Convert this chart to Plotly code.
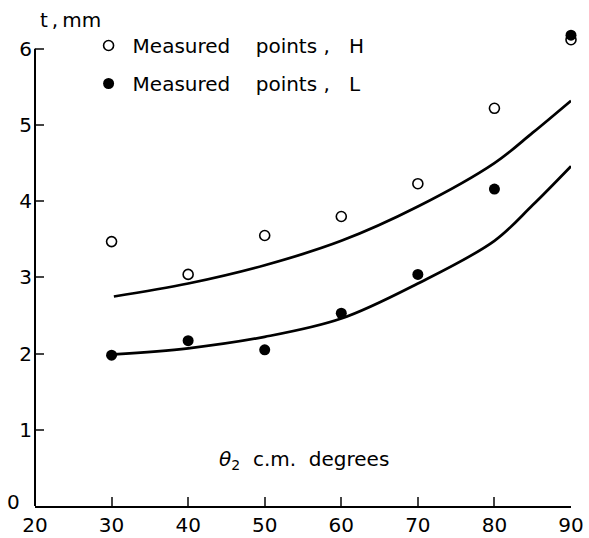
import plotly.graph_objects as go

# Measured points
angles = [30, 40, 50, 60, 70, 80, 90]
t_H = [3.47, 3.04, 3.55, 3.80, 4.23, 5.22, 6.12]
t_L = [1.98, 2.17, 2.05, 2.53, 3.04, 4.16, 6.18]

# Fitted curves
curve_x = [30.3, 40, 50, 60, 70, 80, 85, 90]
curve_H = [2.75, 2.92, 3.16, 3.48, 3.93, 4.50, 4.90, 5.32]
curve_L = [1.99, 2.07, 2.22, 2.46, 2.92, 3.48, 3.95, 4.46]

x_ticks = [20, 30, 40, 50, 60, 70, 80, 90]
y_ticks = [1, 2, 3, 4, 5, 6]
y_axis_top = 6

FONT = "DejaVu Sans"
NB = "&nbsp;"

fig = go.Figure()
fig.add_trace(go.Scatter(x=curve_x, y=curve_H, mode="lines", line=dict(color="black", width=2.7, shape="spline"),
                         showlegend=False, hoverinfo="skip"))
fig.add_trace(go.Scatter(x=curve_x, y=curve_L, mode="lines", line=dict(color="black", width=2.7, shape="spline"),
                         showlegend=False, hoverinfo="skip"))
fig.add_trace(go.Scatter(x=angles, y=t_H, mode="markers", legendgroup="H",
                         name="Measured" + NB * 4 + "points" + NB + "," + NB * 3 + "H",
                         marker=dict(symbol="circle-open", size=10, color="black", line=dict(width=1.6)),
                         cliponaxis=False))
fig.add_trace(go.Scatter(x=angles, y=t_L, mode="markers", legendgroup="L",
                         name="Measured" + NB * 4 + "points" + NB + "," + NB * 3 + "L",
                         marker=dict(symbol="circle", size=11, color="black"),
                         cliponaxis=False))

# left spine only up to the last tick
fig.add_shape(type="line", xref="paper", yref="y", x0=0, x1=0, y0=0, y1=y_axis_top,
              line=dict(color="black", width=2))

fig.update_layout(
    width=589, height=538,
    margin=dict(l=35, r=18, t=26, b=32, autoexpand=False),
    paper_bgcolor="white", plot_bgcolor="white",
    font=dict(family=FONT, size=20, color="black"),
    legend=dict(x=0.0925, y=1.0, xanchor="left", yanchor="top", bgcolor="rgba(0,0,0,0)",
                font=dict(size=20), itemwidth=38, tracegroupgap=9),
    xaxis=dict(range=[20, 90], tickvals=x_ticks, ticks="inside", ticklen=9, tickwidth=1.5,
               showline=True, linewidth=2, linecolor="black", showgrid=False, zeroline=False,
               tickfont=dict(size=20), automargin=False, ticklabelstandoff=0),
    yaxis=dict(range=[0, 6.3], tickvals=[0] + y_ticks, ticktext=[""] + [str(v) for v in y_ticks],
               ticks="inside", ticklen=9, tickwidth=1.5,
               showline=False, showgrid=False, zeroline=False,
               tickfont=dict(size=20), automargin=False, ticklabelstandoff=2),
    annotations=[
        dict(text="t\u2009,\u2009mm", x=0.005, y=1.012, xref="paper", yref="paper", xanchor="left", yanchor="middle",
             showarrow=False, font=dict(size=20)),
        dict(text="<i>θ</i><sub>2</sub>" + NB * 2 + "c.m." + NB * 2 + "degrees", x=0.502, y=0.095,
             xref="paper", yref="paper", xanchor="center", yanchor="middle", showarrow=False, font=dict(size=20)),
        dict(text="0", x=-0.026, y=0, xref="paper", yref="y", xanchor="right", yanchor="middle",
             yshift=4, showarrow=False, borderpad=0, font=dict(size=20)),
    ],
)

fig.write_html("out.html", config={"displayModeBar": False},
               post_script="document.body.style.margin='0';")
